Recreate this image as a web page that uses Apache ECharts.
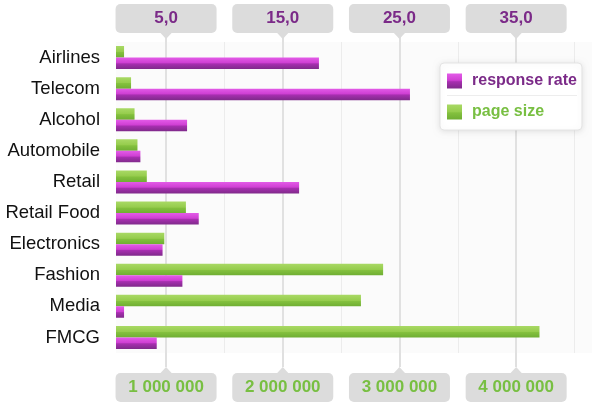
<!DOCTYPE html>
<html>
<head>
<meta charset="utf-8">
<script src="https://cdn.jsdelivr.net/npm/echarts@6/dist/echarts.min.js"></script>
<style>
  html, body { margin: 0; padding: 0; background: #ffffff; }
  #chart { width: 595px; height: 409px; }
</style>
</head>
<body>
<div id="chart"></div>
<script>
// ---- data ----
const categories = ['Airlines', 'Telecom', 'Alcohol', 'Automobile', 'Retail', 'Retail Food', 'Electronics', 'Fashion', 'Media', 'FMCG'];
const responseRate = [18.1, 25.9, 6.8, 2.8, 16.4, 7.8, 4.7, 6.4, 1.4, 4.2];
const pageSize = [640000, 700000, 730000, 755000, 835000, 1170000, 985000, 2860000, 2670000, 4200000];
const responseTicks = [5, 15, 25, 35];
const pageSizeTicks = [1000000, 2000000, 3000000, 4000000];
const responseMinorLines = [10, 20, 30, 40];

// ---- layout constants ----
const GRID = { left: 116, right: 3, top: 42, bottom: 56 };
const RESP_MIN = 0.71, RESP_MAX = 41.5;
const PS_MIN = 1000000 + (RESP_MIN - 5) * 100000;
const PS_MAX = 1000000 + (RESP_MAX - 5) * 100000;

const PURPLE_TXT = '#7b2a88';
const GREEN_TXT = '#78bf42';
const BOX = '#dcdcdc';

const purpleGrad = new echarts.graphic.LinearGradient(0, 0, 0, 1, [
  { offset: 0, color: '#e35be8' },
  { offset: 0.45, color: '#cf3fd3' },
  { offset: 0.55, color: '#a72fb0' },
  { offset: 1, color: '#7f2a8a' }
]);
const greenGrad = new echarts.graphic.LinearGradient(0, 0, 0, 1, [
  { offset: 0, color: '#a9d965' },
  { offset: 0.5, color: '#95cc4c' },
  { offset: 0.55, color: '#84c13e' },
  { offset: 1, color: '#6fae33' }
]);

function fmtResp(v) { return v.toFixed(1).replace('.', ','); }
function fmtPs(v) { return String(Math.round(v)).replace(/\B(?=(\d{3})+(?!\d))/g, ' '); }

const chart = echarts.init(document.getElementById('chart'), null, { renderer: 'canvas' });

const labelBox = (color, margin) => ({
  show: true,
  margin: margin,
  color: color,
  fontSize: 17,
  fontWeight: 'bold',
  fontFamily: 'Liberation Sans, Arial, sans-serif',
  backgroundColor: BOX,
  borderRadius: 5,
  width: 101,
  height: 29,
  lineHeight: 29,
  align: 'center'
});

const option = {
  animation: false,
  backgroundColor: '#ffffff',
  grid: {
    left: GRID.left, right: GRID.right, top: GRID.top, bottom: GRID.bottom,
    show: true, backgroundColor: '#fbfbfb', borderWidth: 0, containLabel: false
  },
  legend: {
    orient: 'vertical',
    left: 440, top: 63,
    backgroundColor: '#ffffff',
    borderColor: '#e4e4e4', borderWidth: 1, borderRadius: 4,
    shadowBlur: 6, shadowColor: 'rgba(0,0,0,0.10)', shadowOffsetY: 1,
    padding: [10, 5, 10, 7],
    itemWidth: 15, itemHeight: 15, itemGap: 15,
    icon: 'rect',
    textStyle: { fontSize: 16, fontWeight: 'bold', fontFamily: 'Liberation Sans, Arial, sans-serif', padding: [0, 0, 0, 5] },
    data: [
      { name: 'response rate', textStyle: { color: PURPLE_TXT } },
      { name: 'page size', textStyle: { color: GREEN_TXT } }
    ]
  },
  xAxis: [
    {
      type: 'value', position: 'top', min: RESP_MIN, max: RESP_MAX,
      axisLine: { show: false },
      splitLine: { show: false },
      axisTick: { show: true, customValues: responseTicks, length: 9, lineStyle: { color: '#d6d6d6', width: 1.5 } },
      axisLabel: Object.assign(labelBox(PURPLE_TXT, 9), { customValues: responseTicks, formatter: fmtResp })
    },
    {
      type: 'value', position: 'bottom', min: PS_MIN, max: PS_MAX,
      axisLine: { show: false },
      splitLine: { show: false },
      axisTick: { show: true, customValues: pageSizeTicks, length: 14, lineStyle: { color: '#d6d6d6', width: 1.5 } },
      axisLabel: Object.assign(labelBox(GREEN_TXT, 20), { customValues: pageSizeTicks, formatter: fmtPs })
    }
  ],
  yAxis: {
    type: 'category', data: categories, inverse: true,
    axisLine: { show: false }, axisTick: { show: false }, splitLine: { show: false },
    axisLabel: { margin: 16, fontSize: 18.5, color: '#111111', fontFamily: 'Liberation Sans, Arial, sans-serif' }
  },
  series: [
    {
      name: 'page size', type: 'bar', xAxisIndex: 1, data: pageSize,
      barWidth: 11.5, barGap: '0%',
      itemStyle: { color: greenGrad },
      markLine: {
        silent: true, symbol: 'none', z: 1, label: { show: false },
        lineStyle: { color: '#d9d9d9', width: 1.5, type: 'solid' },
        data: pageSizeTicks.map(v => ({ xAxis: v }))
      }
    },
    {
      name: 'response rate', type: 'bar', xAxisIndex: 0, data: responseRate,
      barWidth: 11.5, barGap: '0%',
      itemStyle: { color: purpleGrad },
      markLine: {
        silent: true, symbol: 'none', z: 1, label: { show: false },
        lineStyle: { color: '#ececec', width: 1, type: 'solid' },
        data: responseMinorLines.map(v => ({ xAxis: v }))
      }
    }
  ]
};
chart.setOption(option);

// pointer triangles under/over the label boxes, placed through the axis scales
const H = 409;
const topBoxBottom = GRID.top - 9;
const botBoxTop = H - GRID.bottom + 20;
const pointers = [];
responseTicks.forEach(v => {
  const x = chart.convertToPixel({ xAxisIndex: 0 }, v);
  pointers.push({ type: 'polygon', z: 100, shape: { points: [[x - 6, topBoxBottom - 0.5], [x + 6, topBoxBottom - 0.5], [x, topBoxBottom + 6]] }, style: { fill: BOX } });
});
pageSizeTicks.forEach(v => {
  const x = chart.convertToPixel({ xAxisIndex: 1 }, v);
  pointers.push({ type: 'polygon', z: 100, shape: { points: [[x - 6, botBoxTop + 0.5], [x + 6, botBoxTop + 0.5], [x, botBoxTop - 6]] }, style: { fill: BOX } });
});
// legend separator
pointers.push({ type: 'line', z: 100, shape: { x1: 447, y1: 95.5, x2: 577, y2: 95.5 }, style: { stroke: '#ededed', lineWidth: 1 } });
chart.setOption({ graphic: pointers });
</script>
</body>
</html>
